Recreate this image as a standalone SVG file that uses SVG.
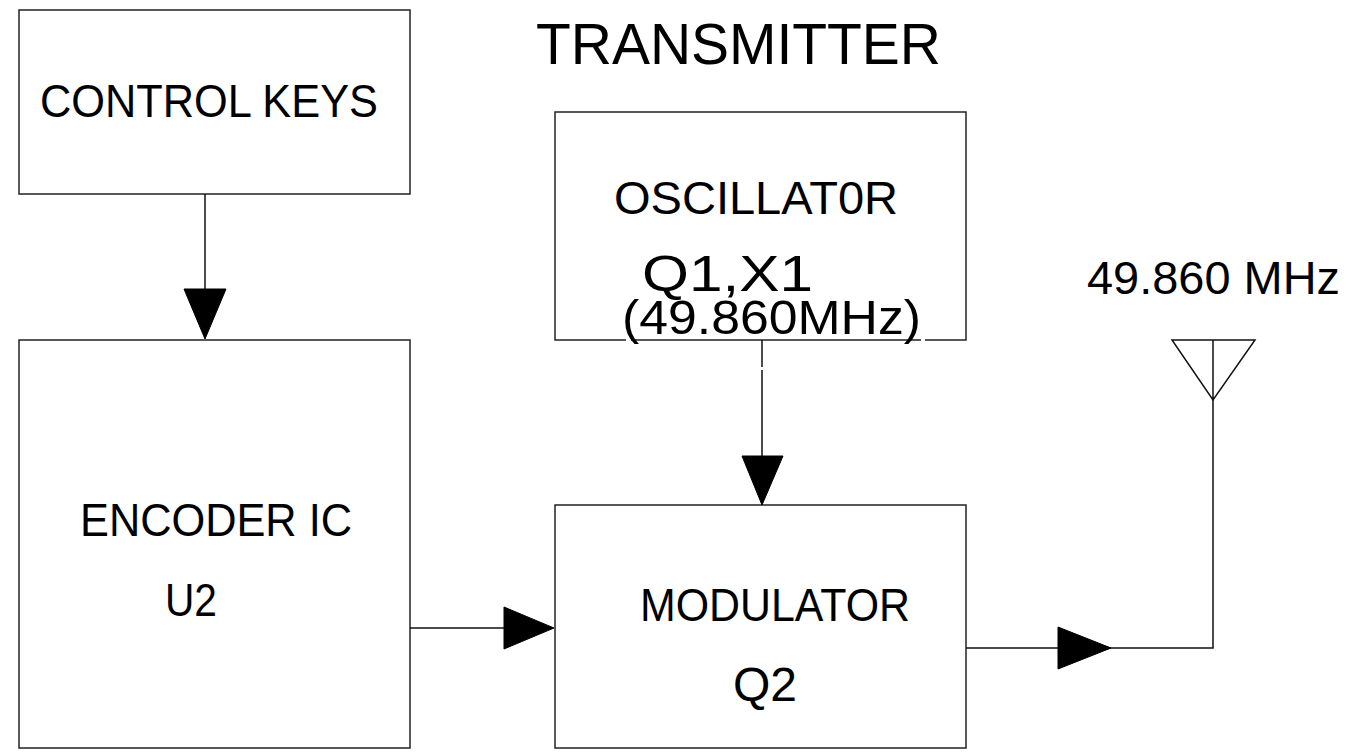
<svg xmlns="http://www.w3.org/2000/svg" width="1361" height="754" viewBox="0 0 1361 754">
<style>
.box{fill:#fff;stroke:#222;stroke-width:1.5}
.ln{fill:none;stroke:#111;stroke-width:1.5}
.t{font-family:"Liberation Sans",Arial,sans-serif;font-size:47px;fill:#000}
.head{fill:#000;stroke:#000;stroke-width:1}
</style>
<rect width="1361" height="754" fill="#fff"/>
<text class="t" x="536" y="64" style="font-size:58px" textLength="405" lengthAdjust="spacingAndGlyphs">TRANSMITTER</text>
<g id="control-keys">
<rect class="box" x="19" y="10" width="391" height="184"/>
<text class="t" x="40" y="117" textLength="338" lengthAdjust="spacingAndGlyphs">CONTROL KEYS</text>
</g>
<g id="encoder">
<rect class="box" x="19" y="340" width="391" height="408"/>
<text class="t" x="80" y="536" textLength="272" lengthAdjust="spacingAndGlyphs">ENCODER IC</text>
<text class="t" x="165" y="616" textLength="52" lengthAdjust="spacingAndGlyphs">U2</text>
</g>
<g id="oscillator">
<path class="ln" d="M626,340 H555 V112 H966 V340 H925 M921,340 H631" style="stroke:#222"/>
<text class="t" x="614" y="214" textLength="284" lengthAdjust="spacingAndGlyphs">OSCILLAT0R</text>
<text class="t" x="642" y="291" style="font-size:50px" textLength="171" lengthAdjust="spacingAndGlyphs">Q1,X1</text>
<text class="t" x="622" y="334" style="font-size:48px" textLength="299" lengthAdjust="spacingAndGlyphs">(49.860MHz)</text>
</g>
<g id="modulator">
<rect class="box" x="555" y="505" width="411" height="243"/>
<text class="t" x="640" y="621" textLength="270" lengthAdjust="spacingAndGlyphs">MODULATOR</text>
<text class="t" x="733" y="701" style="font-size:48px" textLength="64" lengthAdjust="spacingAndGlyphs">Q2</text>
</g>
<g id="antenna">
<path class="ln" d="M1172,340 H1255 L1213,400 Z M1213,340 V400"/>
<text class="t" x="1087" y="294" style="font-size:47px" textLength="253" lengthAdjust="spacingAndGlyphs">49.860 MHz</text>
</g>
<g id="connectors">
<path class="ln" d="M205,194 V289"/>
<polygon class="head" points="184,289 226,289 205,339"/>
<path class="ln" d="M762,340 V367 M762,370 V456"/>
<polygon class="head" points="742,456 783,456 762,505"/>
<path class="ln" d="M410,628 H504"/>
<polygon class="head" points="504,607 504,649 554,628"/>
<path class="ln" d="M966,648 H1213 V400"/>
<polygon class="head" points="1058,627 1058,669 1111,648"/>
</g>
</svg>
